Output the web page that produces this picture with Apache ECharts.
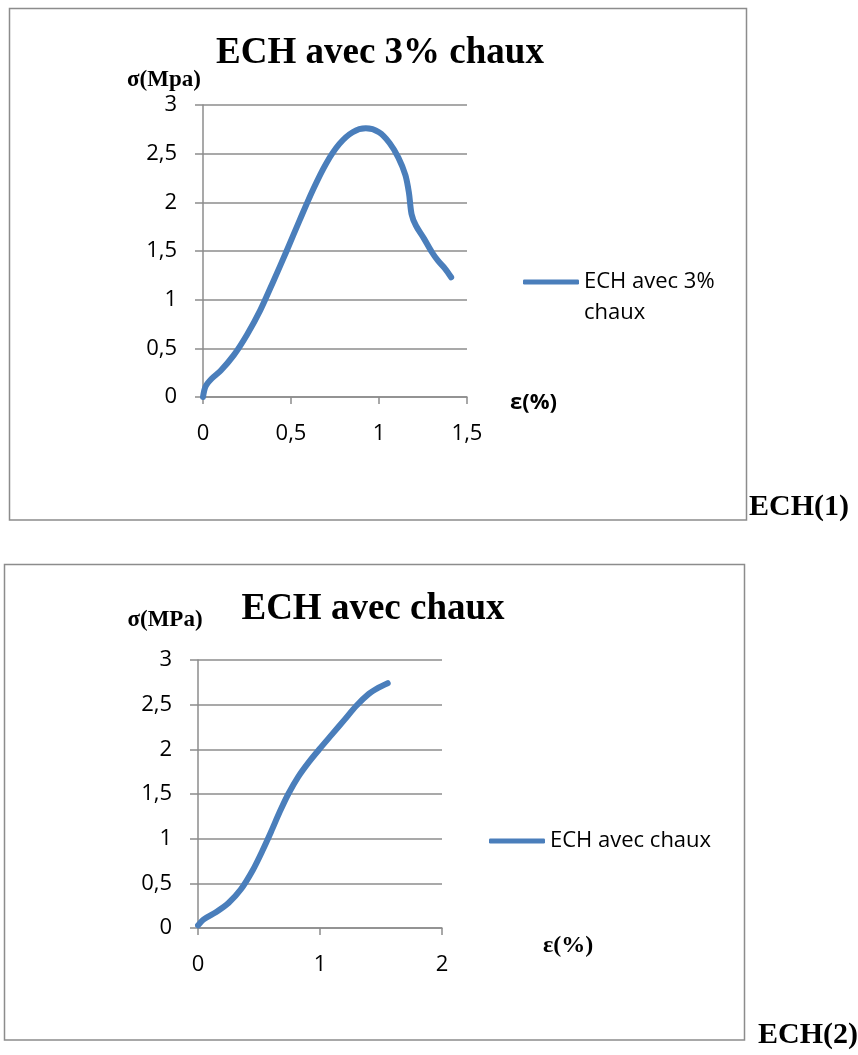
<!DOCTYPE html>
<html>
<head>
<meta charset="utf-8">
<title>ECH avec chaux</title>
<script src="https://cdn.jsdelivr.net/npm/echarts@6/dist/echarts.min.js"></script>
<style>
  html, body { margin: 0; padding: 0; background: #fff; }
  #chart { width: 858px; height: 1055px; }
</style>
</head>
<body>
<div id="chart"></div>
<script>
// ECH(1): sample with 3% lime — strain ε (%) vs stress σ (MPa)
const strain1 = [0, 0.015, 0.05, 0.1, 0.175, 0.25, 0.325, 0.4, 0.475, 0.55, 0.625, 0.7, 0.775, 0.85, 0.925, 1.0, 1.06, 1.11, 1.15, 1.17, 1.185, 1.21, 1.255, 1.3, 1.335, 1.375, 1.41];
const stress1 = [0, 0.11, 0.19, 0.27, 0.43, 0.64, 0.89, 1.19, 1.5, 1.82, 2.13, 2.4, 2.6, 2.72, 2.76, 2.72, 2.61, 2.46, 2.28, 2.1, 1.88, 1.76, 1.63, 1.49, 1.4, 1.32, 1.23];

// ECH(2): sample with lime
const strain2 = [0, 0.05, 0.15, 0.25, 0.35, 0.45, 0.53, 0.6, 0.67, 0.74, 0.82, 0.91, 1.0, 1.1, 1.2, 1.3, 1.4, 1.48, 1.555];
const stress2 = [0.03, 0.1, 0.18, 0.28, 0.43, 0.65, 0.87, 1.08, 1.3, 1.5, 1.69, 1.86, 2.01, 2.17, 2.33, 2.49, 2.62, 2.69, 2.74];

const seriesNames = ['ECH avec 3% chaux', 'ECH avec chaux'];
const chartTitles = ['ECH avec 3% chaux', 'ECH avec chaux'];
const sampleTags = ['ECH(1)', 'ECH(2)'];
const yNames = ['σ(Mpa)', 'σ(MPa)'];
const xName = 'ε(%)';

const LINE = '#4a7ebb';
const GRIDC = '#8c8c8c';
const SANS = '"Open Sans", sans-serif';
const SERIF = '"Liberation Serif", "DejaVu Serif", serif';

const pairs = (xs, ys) => xs.map((x, i) => [x, ys[i]]);
const comma = v => String(v).replace('.', ',');

const axisCommon = {
  type: 'value',
  axisLine: { show: true, lineStyle: { color: GRIDC, width: 1.5 } },
  axisTick: { show: true, inside: false, length: 8, lineStyle: { color: GRIDC, width: 1.5 } },
  axisLabel: { formatter: comma, color: '#000', fontFamily: SANS, fontSize: 22, margin: 26 },
  nameMoveOverlap: false
};

const option = {
  backgroundColor: '#fff',
  animation: false,
  title: [
    { text: chartTitles[0], left: 380, top: 35, textAlign: 'center', padding: 0,
      textStyle: { fontFamily: SERIF, fontWeight: 'bold', fontSize: 37, lineHeight: 37, color: '#000' } },
    { text: chartTitles[1], left: 373, top: 591, textAlign: 'center', padding: 0,
      textStyle: { fontFamily: SERIF, fontWeight: 'bold', fontSize: 37, lineHeight: 37, color: '#000' } },
    { text: sampleTags[0], left: 749, top: 492, padding: 0,
      textStyle: { fontFamily: SERIF, fontWeight: 'bold', fontSize: 30, lineHeight: 30, color: '#000' } },
    { text: sampleTags[1], left: 758, top: 1020, padding: 0,
      textStyle: { fontFamily: SERIF, fontWeight: 'bold', fontSize: 30, lineHeight: 30, color: '#000' } }
  ],
  legend: [
    // blank first line keeps the icon level with "ECH avec 3%"
    { data: [seriesNames[0]], left: 523, top: 235.5, padding: 0, orient: 'vertical',
      icon: 'roundRect', itemWidth: 56, itemHeight: 5,
      formatter: n => '\n' + n.replace('3% ', '3%\n'),
      textStyle: { fontFamily: SANS, fontSize: 22, lineHeight: 31, color: '#000' } },
    { data: [seriesNames[1]], left: 489, top: 825.5, padding: 0, orient: 'vertical',
      icon: 'roundRect', itemWidth: 56, itemHeight: 5,
      textStyle: { fontFamily: SANS, fontSize: 22, lineHeight: 31, color: '#000' } }
  ],
  grid: [
    { left: 203, top: 105, width: 264, height: 292, containLabel: false, outerBoundsMode: 'none' },
    { left: 198, top: 660, width: 244, height: 268, containLabel: false, outerBoundsMode: 'none' }
  ],
  xAxis: [
    Object.assign({}, axisCommon, {
      gridIndex: 0, min: 0, max: 1.5, interval: 0.5, splitLine: { show: false },
      axisTick: { show: true, length: 7, lineStyle: { color: GRIDC, width: 1.5 } },
      name: xName, nameLocation: 'end', nameGap: 43,
      nameTextStyle: { fontFamily: SANS, fontWeight: 'bold', fontSize: 22, lineHeight: 12, color: '#000',
        align: 'left', verticalAlign: 'top' }
    }),
    Object.assign({}, axisCommon, {
      gridIndex: 1, min: 0, max: 2, interval: 1, splitLine: { show: false },
      axisTick: { show: true, length: 7, lineStyle: { color: GRIDC, width: 1.5 } },
      name: xName, nameLocation: 'end', nameGap: 101,
      nameTextStyle: { fontFamily: SERIF, fontWeight: 'bold', fontSize: 24, lineHeight: 35, color: '#000',
        align: 'left', verticalAlign: 'top' }
    })
  ],
  yAxis: [
    Object.assign({}, axisCommon, {
      gridIndex: 0, min: 0, max: 3, interval: 0.5,
      splitLine: { show: true, lineStyle: { color: GRIDC, width: 1.5 } },
      name: yNames[0], nameLocation: 'end', nameGap: 13,
      nameTextStyle: { fontFamily: SERIF, fontWeight: 'bold', fontSize: 23, lineHeight: 24, color: '#000',
        align: 'center', verticalAlign: 'bottom', padding: [0, 78, 0, 0] }
    }),
    Object.assign({}, axisCommon, {
      gridIndex: 1, min: 0, max: 3, interval: 0.5,
      splitLine: { show: true, lineStyle: { color: GRIDC, width: 1.5 } },
      name: yNames[1], nameLocation: 'end', nameGap: 28,
      nameTextStyle: { fontFamily: SERIF, fontWeight: 'bold', fontSize: 23, lineHeight: 24, color: '#000',
        align: 'center', verticalAlign: 'bottom', padding: [0, 66, 0, 0] }
    })
  ],
  series: [
    { name: seriesNames[0], type: 'line', xAxisIndex: 0, yAxisIndex: 0,
      data: pairs(strain1, stress1), smooth: 0.3, showSymbol: false, symbol: 'none',
      color: LINE, lineStyle: { color: LINE, width: 6, cap: 'round', join: 'round' } },
    { name: seriesNames[1], type: 'line', xAxisIndex: 1, yAxisIndex: 1,
      data: pairs(strain2, stress2), smooth: 0.3, showSymbol: false, symbol: 'none',
      color: LINE, lineStyle: { color: LINE, width: 6, cap: 'round', join: 'round' } }
  ],
  graphic: [
    { type: 'rect', shape: { x: 9.5, y: 8.5, width: 737, height: 511.5 },
      style: { fill: 'none', stroke: GRIDC, lineWidth: 1.5 }, silent: true, z: -1 },
    { type: 'rect', shape: { x: 4.5, y: 564.5, width: 740, height: 475.5 },
      style: { fill: 'none', stroke: GRIDC, lineWidth: 1.5 }, silent: true, z: -1 }
  ]
};

const chart = echarts.init(document.getElementById('chart'), null, { renderer: 'canvas' });
chart.setOption(option);
</script>
</body>
</html>
